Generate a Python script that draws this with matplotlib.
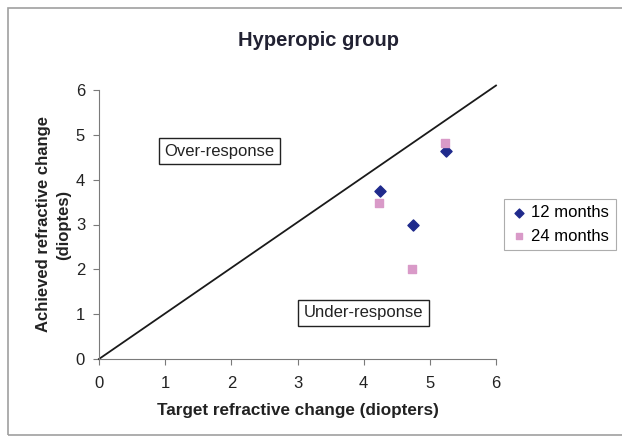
import matplotlib
matplotlib.use("Agg")
import matplotlib.pyplot as plt
from matplotlib.patches import Rectangle

plt.rcParams['font.family'] = ['Liberation Sans', 'DejaVu Sans']

x_12 = [4.25, 4.74, 5.24]
y_12 = [3.74, 3.00, 4.64]
x_24 = [4.23, 4.73, 5.23]
y_24 = [3.47, 2.00, 4.82]
ref_x = [0, 6]
ref_y = [0, 6.1]
ticks = [0, 1, 2, 3, 4, 5, 6]

fig = plt.figure(figsize=(6.22, 4.37), dpi=100)
fig.patches.append(Rectangle((8/622, 0.005), 1.0, 1 - 8/437 - 0.005, transform=fig.transFigure,
                             fill=False, edgecolor='#a0a0a0', linewidth=1.2))
ax = fig.add_axes([99/622, 1 - 359/437, (496 - 99)/622, (359 - 90)/437])

ax.plot(ref_x, ref_y, color='#1a1a1a', linewidth=1.3, clip_on=False)
ax.scatter(x_12, y_12, marker='D', s=32, color='#1f2a8c', label='12 months', zorder=3, clip_on=False)
ax.scatter(x_24, y_24, marker='s', s=32, color='#d99ac8', label='24 months', zorder=3, clip_on=False)

ax.set_xlim(0, 6)
ax.set_ylim(0, 6)
ax.set_xticks(ticks)
ax.set_yticks(ticks)
for s in ['top', 'right']:
    ax.spines[s].set_visible(False)
for s in ['left', 'bottom']:
    ax.spines[s].set_color('#7a7a7a')
ax.tick_params(axis='both', colors='#7a7a7a', labelcolor='#222222', labelsize=12, length=4, direction='out')
ax.tick_params(axis='x', pad=8)
ax.tick_params(axis='y', pad=6)

ax.set_xlabel('Target refractive change (diopters)', fontsize=12.3, fontweight='bold', labelpad=9, color='#222222')
ax.set_ylabel('Achieved refractive change\n(dioptes)', fontsize=12, fontweight='bold', labelpad=3,
              color='#222222', linespacing=1.45)
fig.text(318/622, 1 - 40/437, 'Hyperopic group', ha='center', va='center',
         fontsize=14.5, fontweight='bold', color='#222233')

bbox = dict(boxstyle='square,pad=0.33', facecolor='white', edgecolor='#222222', linewidth=1)
ax.text(1.82, 4.63, 'Over-response', ha='center', va='center', fontsize=12, bbox=bbox, color='#222222')
ax.text(4.0, 1.03, 'Under-response', ha='center', va='center', fontsize=12, bbox=bbox, color='#222222')

leg = ax.legend(loc='center left', bbox_to_anchor=(1.0, 0.5), frameon=True, fontsize=12,
                handletextpad=0.2, borderpad=0.4, handlelength=1.0, labelspacing=0.5,
                fancybox=False, markerscale=0.8, borderaxespad=0.5)
leg.get_frame().set_edgecolor('#999999')
leg.get_frame().set_linewidth(0.8)

fig.savefig('out.png', dpi=100)
